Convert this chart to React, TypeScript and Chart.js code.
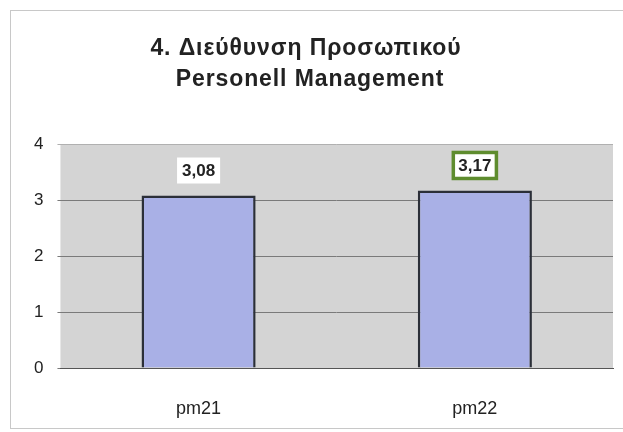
import React, { useEffect, useRef } from "react";
import { Chart, registerables } from "chart.js";

Chart.register(...registerables);

const titleLines = ["4. Διεύθυνση Προσωπικού", "Personell Management"];
const categories = ["pm21", "pm22"];
const values = [3.08, 3.17];
const valueLabels = ["3,08", "3,17"];
const yTicks = [0, 1, 2, 3, 4];

const FONT = "'Liberation Sans', Arial, sans-serif";

const framePlugin = {
  id: "frameBg",
  beforeDraw(chart: any) {
    const { ctx, chartArea } = chart;
    ctx.save();
    ctx.fillStyle = "#ffffff";
    ctx.fillRect(0, 0, chart.width, chart.height);
    ctx.strokeStyle = "#c8c8c8";
    ctx.lineWidth = 1;
    ctx.strokeRect(10.5, 10.5, chart.width - 8, chart.height - 14);
    ctx.fillStyle = "#d4d4d4";
    ctx.fillRect(chartArea.left, chartArea.top, chartArea.right - chartArea.left, chartArea.bottom - chartArea.top);
    ctx.restore();
  },
  afterDraw(chart: any) {
    const { ctx } = chart;
    ctx.save();
    ctx.font = `bold 23px ${FONT}`;
    (ctx as any).letterSpacing = "0.9px";
    ctx.fillStyle = "#222222";
    ctx.textAlign = "center";
    ctx.textBaseline = "middle";
    ctx.fillText(titleLines[0], 306, 49);
    ctx.fillText(titleLines[1], 310, 80);
    ctx.restore();
  },
};

const labelPlugin = {
  id: "valueLabels",
  afterDatasetsDraw(chart: any) {
    const { ctx } = chart;
    const meta = chart.getDatasetMeta(0);
    ctx.save();
    ctx.font = `bold 17px ${FONT}`;
    ctx.textAlign = "center";
    ctx.textBaseline = "middle";
    meta.data.forEach((bar: any, i: number) => {
      const text = valueLabels[i];
      const w = ctx.measureText(text).width + 10;
      const h = 26;
      const cx = bar.x;
      const cy = bar.y - 25;
      ctx.fillStyle = "#ffffff";
      ctx.fillRect(cx - w / 2, cy - h / 2, w, h);
      if (i === 1) {
        ctx.strokeStyle = "#5e8c2e";
        ctx.lineWidth = 3.5;
        ctx.strokeRect(cx - w / 2, cy - h / 2, w, h);
      }
      ctx.fillStyle = "#222222";
      ctx.fillText(text, cx, cy + 1);
    });
    ctx.restore();
  },
};

export default function App() {
  const ref = useRef<HTMLCanvasElement>(null);
  useEffect(() => {
    document.body.style.margin = "0";
    const chart = new Chart(ref.current!, {
      type: "bar",
      data: {
        labels: categories,
        datasets: [
          {
            data: values,
            backgroundColor: "#a9b0e6",
            borderColor: "#2b2f38",
            borderWidth: 2.5,
            barPercentage: 0.413,
            categoryPercentage: 1,
          },
        ],
      },
      options: {
        responsive: false,
        animation: false,
        layout: { padding: { left: 20, right: 10, top: 144, bottom: 0 } },
        plugins: {
          legend: { display: false },
          tooltip: { enabled: false },
          title: { display: false },
        },
        scales: {
          x: {
            grid: { display: false, drawTicks: false, tickLength: 0 },
            border: { display: true, color: "#555555", width: 1 },
            ticks: {
              color: "#222222",
              font: { family: FONT, size: 18 },
              padding: 30,
            },
            afterFit(scale: any) {
              scale.height = 64;
            },
          },
          y: {
            min: 0,
            max: 4,
            afterBuildTicks(axis: any) {
              axis.ticks = yTicks.map((v) => ({ value: v }));
            },
            grid: {
              color: (c: any) => (c.tick && c.tick.value === 4 ? "#b0b0b0" : "#7a7a7a"),
              drawTicks: true,
              tickLength: 3,
            },
            border: { display: false },
            ticks: {
              color: "#222222",
              font: { family: FONT, size: 17 },
              padding: 14,
            },
          },
        },
      },
      plugins: [framePlugin, labelPlugin],
    });
    return () => chart.destroy();
  }, []);
  return (
    <div style={{ width: 623, height: 432 }}>
      <canvas ref={ref} width={623} height={432} style={{ display: "block" }} />
    </div>
  );
}
